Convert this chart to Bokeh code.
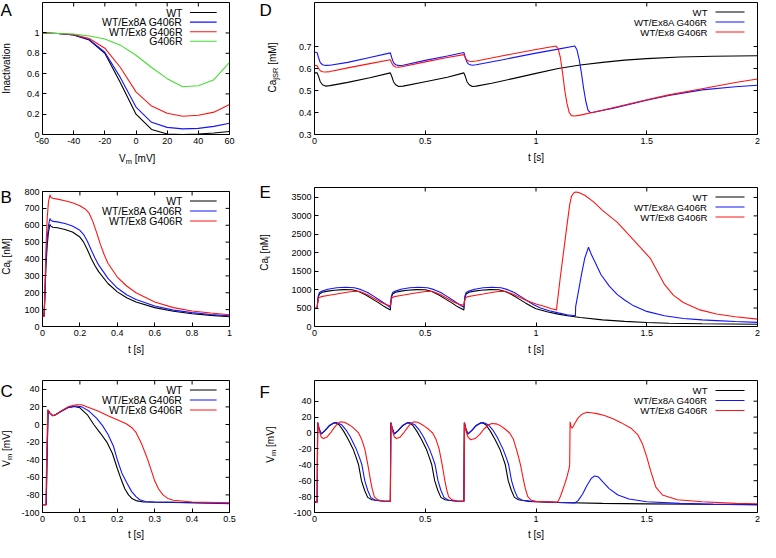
import math
from bokeh.plotting import figure
from bokeh.models import Range1d, FixedTicker, Label, NumeralTickFormatter
from bokeh.layouts import column, row
from bokeh.embed import file_html
from bokeh.resources import INLINE

FONT = "Liberation Sans"
COL_WT = "#000000"
COL_8A = "#1414ff"
COL_8 = "#ff1414"
COL_G = "#44e030"
NAMES = ["WT", "WT/Ex8A G406R", "WT/Ex8 G406R", "G406R"]
LW = 1.1

# ---------------- Panel A: inactivation vs Vm ----------------
A_VM = [-60, -50, -40, -30, -20, -10, 0, 10, 20, 30, 40, 50, 60]
A_WT = [1, 0.995, 0.98, 0.93, 0.80, 0.51, 0.20, 0.05, 0.005, 0.0, 0.005, 0.015, 0.03]
A_EX8A = [1, 0.995, 0.98, 0.935, 0.81, 0.56, 0.27, 0.12, 0.07, 0.055, 0.06, 0.08, 0.11]
A_EX8 = [1, 0.995, 0.985, 0.945, 0.85, 0.66, 0.42, 0.28, 0.21, 0.18, 0.19, 0.22, 0.295]
A_G406R = [1, 0.995, 0.99, 0.97, 0.94, 0.88, 0.78, 0.66, 0.55, 0.47, 0.48, 0.54, 0.71]
A_XTICKS = [-60, -40, -20, 0, 20, 40, 60]
A_YTICKS = [0, 0.2, 0.4, 0.6, 0.8, 1]

# ---------------- Panel B: Ca_i single beat ----------------
B_WT = [(0, 60), (0.008, 60), (0.012, 150), (0.018, 350), (0.025, 480), (0.032, 560), (0.04, 605),
        (0.045, 595), (0.055, 588), (0.08, 585), (0.12, 575), (0.16, 560), (0.2, 530), (0.22, 500),
        (0.24, 455), (0.26, 405), (0.28, 362), (0.3, 325), (0.35, 255), (0.4, 205), (0.45, 170),
        (0.5, 145), (0.6, 112), (0.7, 90), (0.8, 76), (0.9, 66), (1.0, 58)]
B_EX8A = [(0, 60), (0.008, 60), (0.012, 160), (0.018, 380), (0.025, 520), (0.032, 600), (0.04, 640),
          (0.045, 630), (0.055, 623), (0.08, 620), (0.12, 610), (0.16, 595), (0.2, 570), (0.22, 545),
          (0.24, 505), (0.26, 455), (0.28, 408), (0.3, 365), (0.35, 285), (0.4, 228), (0.45, 188),
          (0.5, 160), (0.6, 122), (0.7, 97), (0.8, 82), (0.9, 71), (1.0, 63)]
B_EX8 = [(0, 60), (0.008, 60), (0.012, 180), (0.018, 450), (0.025, 640), (0.032, 740), (0.04, 780),
         (0.045, 765), (0.055, 760), (0.08, 755), (0.12, 745), (0.16, 733), (0.2, 715), (0.23, 695),
         (0.25, 670), (0.27, 620), (0.29, 555), (0.31, 485), (0.33, 425), (0.35, 375), (0.4, 293),
         (0.45, 240), (0.5, 200), (0.6, 145), (0.7, 112), (0.8, 92), (0.9, 80), (1.0, 70)]
B_XTICKS = [0, 0.2, 0.4, 0.6, 0.8, 1]
B_YTICKS = [0, 100, 200, 300, 400, 500, 600, 700, 800]

# ---------------- Panel C: Vm single beat ----------------
C_WT = [(0, -91), (0.01, -91), (0.012, -40), (0.015, 16), (0.02, 13), (0.027, 10), (0.035, 11),
        (0.05, 15), (0.07, 19.5), (0.085, 20.5), (0.1, 19), (0.12, 11), (0.137, 0), (0.155, -10),
        (0.172, -20), (0.187, -33), (0.2, -50), (0.21, -62), (0.22, -73), (0.23, -80), (0.24, -84.5),
        (0.25, -86.5), (0.27, -88), (0.35, -88.5), (0.5, -89.5)]
C_EX8A = [(0, -91), (0.01, -91), (0.012, -40), (0.015, 16), (0.02, 13), (0.027, 10), (0.035, 11),
          (0.05, 15), (0.07, 19.5), (0.09, 21), (0.105, 20), (0.125, 15), (0.145, 7), (0.16, -1),
          (0.175, -11), (0.19, -25), (0.2, -40), (0.212, -55), (0.225, -66), (0.238, -76),
          (0.25, -82), (0.26, -85.5), (0.275, -87.5), (0.3, -88), (0.4, -89), (0.5, -90)]
C_EX8 = [(0, -91), (0.009, -91), (0.011, -40), (0.014, 17), (0.02, 13), (0.027, 10), (0.035, 11),
         (0.05, 15.5), (0.07, 20.5), (0.09, 22.5), (0.105, 22.5), (0.12, 20), (0.15, 15), (0.175, 10),
         (0.2, 5.5), (0.225, 0.5), (0.24, -4), (0.25, -9), (0.265, -22), (0.278, -36), (0.29, -51),
         (0.3, -64), (0.31, -73), (0.322, -80), (0.335, -84), (0.35, -86), (0.4, -88), (0.5, -89)]
C_XTICKS = [0, 0.1, 0.2, 0.3, 0.4, 0.5]
C_YTICKS = [-100, -80, -60, -40, -20, 0, 20, 40]

# ---------------- Panel D: Ca_jSR, 4 beats ----------------
D_WT = [(0, 0.58), (0.012, 0.58), (0.018, 0.565), (0.026, 0.54), (0.036, 0.526), (0.05, 0.52),
        (0.07, 0.522), (0.15, 0.537), (0.25, 0.558), (0.3425, 0.58), (0.3485, 0.565), (0.3565, 0.54),
        (0.3665, 0.526), (0.38, 0.518), (0.4, 0.52), (0.5, 0.54), (0.6, 0.56), (0.6745, 0.58),
        (0.6805, 0.565), (0.6885, 0.54), (0.6985, 0.526), (0.712, 0.518), (0.73, 0.52), (0.8, 0.533),
        (0.9, 0.555), (1.0, 0.578), (1.1, 0.6), (1.2, 0.616), (1.3, 0.628), (1.4, 0.638), (1.5, 0.645),
        (1.65, 0.652), (1.8, 0.656), (2.0, 0.658)]
D_EX8A = [(0, 0.675), (0.012, 0.672), (0.018, 0.65), (0.026, 0.627), (0.036, 0.617), (0.05, 0.614),
          (0.07, 0.615), (0.15, 0.628), (0.25, 0.65), (0.3425, 0.671), (0.3485, 0.65), (0.3565, 0.627),
          (0.3665, 0.617), (0.38, 0.613), (0.4, 0.615), (0.5, 0.637), (0.6, 0.657), (0.6745, 0.673),
          (0.6805, 0.65), (0.6885, 0.628), (0.6985, 0.618), (0.712, 0.615), (0.73, 0.617), (0.85, 0.64),
          (1.0, 0.67), (1.1, 0.688), (1.175, 0.702), (1.185, 0.685), (1.195, 0.64), (1.205, 0.58),
          (1.215, 0.51), (1.225, 0.45), (1.235, 0.41), (1.245, 0.4), (1.26, 0.401), (1.35, 0.42),
          (1.5, 0.456), (1.6, 0.478), (1.75, 0.503), (1.9, 0.517), (2.0, 0.524)]
D_EX8 = [(0, 0.615), (0.012, 0.612), (0.018, 0.6), (0.026, 0.59), (0.036, 0.585), (0.05, 0.584),
         (0.07, 0.586), (0.15, 0.603), (0.25, 0.622), (0.3425, 0.64), (0.3485, 0.625), (0.3565, 0.612),
         (0.3665, 0.607), (0.38, 0.606), (0.4, 0.609), (0.5, 0.63), (0.6, 0.65), (0.6745, 0.663),
         (0.6805, 0.65), (0.6885, 0.638), (0.6985, 0.633), (0.712, 0.632), (0.73, 0.634), (0.85, 0.658),
         (1.0, 0.686), (1.09, 0.702), (1.1, 0.69), (1.11, 0.65), (1.12, 0.58), (1.13, 0.5), (1.14, 0.44),
         (1.15, 0.4), (1.16, 0.386), (1.175, 0.384), (1.2, 0.388), (1.3, 0.41), (1.4, 0.434),
         (1.5, 0.458), (1.6, 0.48), (1.75, 0.508), (1.9, 0.536), (2.0, 0.552)]
D_XTICKS = [0, 0.5, 1, 1.5, 2]
D_YTICKS = [0.3, 0.4, 0.5, 0.6, 0.7]

# ---------------- Panel E: Ca_i, 4 beats ----------------
E_WT = [(0, 490), (0.012, 495), (0.014, 650), (0.017, 790), (0.022, 880), (0.035, 930), (0.06, 960),
        (0.09, 985), (0.13, 1000), (0.17, 995), (0.2, 950), (0.23, 860), (0.26, 750), (0.29, 640),
        (0.315, 540), (0.3425, 450), (0.3445, 650), (0.3475, 790), (0.3525, 880), (0.3655, 930),
        (0.39, 960), (0.42, 985), (0.46, 1000), (0.5, 995), (0.53, 950), (0.56, 860), (0.59, 750),
        (0.62, 640), (0.645, 540), (0.6745, 450), (0.6765, 650), (0.6795, 790), (0.6845, 880),
        (0.6975, 930), (0.722, 960), (0.752, 985), (0.792, 1000), (0.832, 995), (0.862, 950),
        (0.892, 860), (0.922, 750), (0.952, 640), (0.98, 545), (1.0, 480), (1.05, 400), (1.1, 335),
        (1.15, 285), (1.2, 245), (1.3, 180), (1.4, 140), (1.5, 110), (1.6, 90), (1.75, 75), (2.0, 60)]
E_EX8A = [(0, 490), (0.012, 500), (0.014, 660), (0.017, 830), (0.022, 920), (0.035, 960), (0.06, 1010),
          (0.1, 1050), (0.14, 1065), (0.18, 1050), (0.21, 1000), (0.24, 920), (0.27, 810), (0.3, 690),
          (0.325, 590), (0.3425, 515), (0.3445, 660), (0.3475, 830), (0.3525, 920), (0.3655, 960),
          (0.39, 1010), (0.43, 1050), (0.47, 1065), (0.51, 1050), (0.54, 1000), (0.57, 920), (0.6, 810),
          (0.63, 690), (0.655, 590), (0.6745, 520), (0.6765, 660), (0.6795, 830), (0.6845, 920),
          (0.6975, 960), (0.722, 1010), (0.762, 1050), (0.802, 1065), (0.842, 1050), (0.872, 1000),
          (0.902, 920), (0.932, 810), (0.962, 690), (0.99, 590), (1.02, 500), (1.06, 425), (1.1, 370),
          (1.14, 320), (1.178, 290), (1.179, 540), (1.19, 900), (1.205, 1400), (1.22, 1850),
          (1.237, 2150), (1.25, 1950), (1.27, 1700), (1.293, 1410), (1.33, 1100), (1.366, 870),
          (1.4, 720), (1.441, 560), (1.5, 410), (1.58, 290), (1.665, 215), (1.75, 180), (1.815, 160),
          (1.9, 135), (2.0, 112)]
E_EX8 = [(0, 500), (0.012, 510), (0.015, 660), (0.019, 780), (0.03, 810), (0.06, 840), (0.1, 880),
         (0.14, 920), (0.17, 950), (0.19, 955), (0.21, 935), (0.24, 860), (0.27, 760), (0.3, 660),
         (0.325, 590), (0.3425, 560), (0.3455, 680), (0.3495, 780), (0.36, 810), (0.39, 840), (0.43, 880),
         (0.47, 920), (0.5, 950), (0.52, 955), (0.54, 935), (0.57, 860), (0.6, 760), (0.63, 660),
         (0.655, 600), (0.6745, 575), (0.6775, 690), (0.6815, 780), (0.692, 810), (0.722, 840),
         (0.762, 880), (0.8, 920), (0.83, 950), (0.85, 955), (0.87, 935), (0.9, 870), (0.93, 780),
         (0.96, 700), (1.0, 610), (1.04, 540), (1.07, 480), (1.093, 450), (1.095, 600), (1.098, 740),
         (1.11, 1350), (1.125, 2050), (1.14, 2750), (1.152, 3300), (1.16, 3530), (1.17, 3620),
         (1.18, 3650), (1.195, 3630), (1.22, 3560), (1.26, 3380), (1.3, 3150), (1.366, 2830),
         (1.44, 2350), (1.516, 1850), (1.56, 1360), (1.58, 1140), (1.62, 850), (1.665, 650),
         (1.74, 450), (1.815, 340), (1.9, 265), (2.0, 200)]
E_XTICKS = [0, 0.5, 1, 1.5, 2]
E_YTICKS = [0, 500, 1000, 1500, 2000, 2500, 3000, 3500]

# ---------------- Panel F: Vm, 4 beats ----------------
F_WT = [(0, -87), (0.012, -87), (0.014, 13), (0.02, 6), (0.03, -1.5), (0.047, 3), (0.067, 9),
        (0.087, 12.5), (0.095, 13), (0.112, 10), (0.132, 2), (0.152, -8), (0.174, -20), (0.187, -30),
        (0.199, -40), (0.212, -60), (0.226, -72), (0.24, -81), (0.259, -84), (0.302, -85.5),
        (0.3425, -86), (0.3445, 13), (0.3505, 6), (0.3605, -1.5), (0.3775, 3), (0.3975, 9),
        (0.4175, 12.5), (0.4255, 13), (0.4425, 10), (0.4625, 2), (0.4825, -8), (0.5045, -20),
        (0.5175, -30), (0.5295, -40), (0.5425, -60), (0.5565, -72), (0.5705, -81), (0.5895, -84),
        (0.6325, -85.5), (0.6745, -86), (0.6765, 13), (0.6825, 6), (0.6925, -1.5), (0.7095, 3),
        (0.7295, 9), (0.7495, 12.5), (0.7575, 13), (0.7745, 10), (0.7945, 2), (0.8145, -8),
        (0.8365, -20), (0.8495, -30), (0.8615, -40), (0.8745, -60), (0.8885, -72), (0.9025, -81),
        (0.9215, -84), (0.97, -86), (1.1, -87.5), (1.3, -88.5), (1.5, -89.2), (1.75, -89.7), (2.0, -90)]
F_EX8A = [(0, -87), (0.012, -87), (0.014, 13), (0.02, 6), (0.03, -1), (0.047, 3), (0.067, 9.5),
          (0.087, 12.5), (0.102, 13), (0.122, 10.5), (0.142, 4), (0.162, -5), (0.188, -20), (0.202, -30),
          (0.214, -40), (0.227, -60), (0.24, -72), (0.254, -81), (0.274, -84.5), (0.312, -85.5),
          (0.3425, -86), (0.3445, 13), (0.3505, 6), (0.3605, -1), (0.3775, 3), (0.3975, 9.5),
          (0.4175, 12.5), (0.4325, 13), (0.4525, 10.5), (0.4725, 4), (0.4925, -5), (0.5185, -20),
          (0.5325, -30), (0.5445, -40), (0.5575, -60), (0.5705, -72), (0.5845, -81), (0.6045, -84.5),
          (0.6425, -85.5), (0.6745, -86), (0.6765, 13), (0.6825, 6), (0.6925, -1), (0.7095, 3),
          (0.7295, 9.5), (0.7495, 12.5), (0.7645, 13), (0.7845, 10.5), (0.8045, 4), (0.8245, -5),
          (0.8505, -20), (0.8645, -30), (0.8765, -40), (0.8895, -60), (0.9025, -72), (0.9165, -81),
          (0.9365, -84.5), (0.98, -86), (1.1, -87.5), (1.175, -88), (1.19, -85), (1.21, -77),
          (1.23, -66), (1.25, -57), (1.265, -54), (1.28, -55), (1.3, -61), (1.33, -70), (1.37, -78),
          (1.42, -83), (1.5, -86.5), (1.65, -88.5), (1.8, -89.5), (2.0, -90.5)]
F_EX8 = [(0, -87), (0.012, -87), (0.015, 13), (0.022, 2), (0.03, -5), (0.04, -7), (0.055, -5.5),
         (0.072, 0), (0.09, 7), (0.105, 12), (0.117, 14), (0.135, 13.5), (0.152, 11), (0.169, 8),
         (0.185, 4), (0.199, 0), (0.213, -8), (0.227, -20), (0.234, -30), (0.241, -40), (0.247, -50),
         (0.253, -60), (0.261, -71), (0.27, -80), (0.285, -84), (0.31, -85.5), (0.3425, -86),
         (0.3455, 13), (0.3525, 2), (0.3605, -5), (0.3705, -7), (0.3855, -5.5), (0.4025, 0),
         (0.4205, 7), (0.4355, 12), (0.4475, 14), (0.4655, 13.5), (0.4825, 11), (0.4995, 8),
         (0.5175, 4), (0.5335, 0), (0.5485, -8), (0.5625, -20), (0.5695, -30), (0.5765, -40),
         (0.5825, -50), (0.5885, -60), (0.5965, -71), (0.6055, -80), (0.6205, -84), (0.6455, -85.5),
         (0.6745, -86), (0.6775, 13), (0.6845, 2), (0.6925, -5), (0.705, -8.5), (0.725, -7),
         (0.745, -2), (0.765, 5), (0.785, 10), (0.8, 12), (0.82, 11.5), (0.84, 9), (0.86, 5),
         (0.881, 0), (0.898, -8), (0.911, -20), (0.921, -30), (0.93, -40), (0.937, -50), (0.944, -60),
         (0.952, -70), (0.963, -80), (0.978, -84.5), (1.0, -86), (1.05, -86.5), (1.092, -87),
         (1.1, -86), (1.11, -80), (1.12, -72), (1.13, -64), (1.14, -55), (1.15, -44), (1.152, -40),
         (1.154, 14), (1.158, 8), (1.163, 6), (1.175, 12), (1.19, 19), (1.21, 24), (1.23, 26),
         (1.25, 25.5), (1.28, 24), (1.309, 22), (1.35, 17.5), (1.384, 13), (1.429, 6), (1.459, -2),
         (1.481, -14), (1.5, -30), (1.518, -48), (1.541, -68), (1.571, -78), (1.638, -84),
         (1.75, -86.5), (1.9, -88.5), (2.0, -89)]
F_XTICKS = [0, 0.5, 1, 1.5, 2]
F_YTICKS = [-100, -80, -60, -40, -20, 0, 20, 40]

# ---------------- helpers ----------------
ADV = {" ": 278, "[": 278, "]": 278, "V": 667, "m": 833, "M": 833, "N": 722, "C": 722,
       "a": 556, "i": 222, "j": 222, "S": 667, "R": 722, "t": 278, "s": 500, "I": 278,
       "n": 556, "c": 500, "v": 500, "o": 556}
TICK = 4
TOTAL_H = 542


def text_width(s, size):
    return sum(ADV.get(c, 556) for c in s) * size / 1000.0


def style_axis(ax, ticks):
    ax.ticker = FixedTicker(ticks=ticks)
    ax.formatter = NumeralTickFormatter(format="0.[0]")
    ax.axis_line_color = None
    ax.major_tick_in = TICK
    ax.major_tick_out = 0
    ax.major_tick_line_color = "black"
    ax.minor_tick_line_color = None
    ax.major_label_text_font = FONT
    ax.major_label_text_color = "black"
    ax.major_label_text_font_size = "9px"
    ax.major_label_standoff = 3
    ax.axis_label_text_font = FONT
    ax.axis_label_text_font_style = "normal"
    ax.axis_label_text_font_size = "10px"
    ax.axis_label_text_color = "black"


def panel(w, h, bl, br, bt, bb, xr, yr, xticks, yticks):
    p = figure(width=w, height=h, x_range=Range1d(*xr), y_range=Range1d(*yr),
               output_backend="svg", toolbar_location=None,
               min_border_left=bl, min_border_right=br, min_border_top=bt, min_border_bottom=bb)
    p.grid.visible = False
    p.outline_line_color = "black"
    p.outline_line_width = 1
    p.outline_line_alpha = 1
    p.background_fill_color = "white"
    p.border_fill_color = "white"
    xa, ya = p.below[0], p.left[0]
    style_axis(xa, xticks)
    style_axis(ya, yticks)
    fw, fh = w - bl - br, h - bt - bb
    # mirrored inward ticks on the top and right edges (gnuplot style)
    dx = (xr[1] - xr[0]) / fw * TICK
    dy = (yr[1] - yr[0]) / fh * TICK
    p.segment(x0=xticks, y0=[yr[1]] * len(xticks), x1=xticks, y1=[yr[1] - dy] * len(xticks),
              line_color="black", line_width=1)
    p.segment(x0=[xr[1]] * len(yticks), y0=yticks, x1=[xr[1] - dx] * len(yticks), y1=yticks,
              line_color="black", line_width=1)
    return p, xa, ya, fw, fh


def strip(w, h):
    """A blank canvas (frame = whole canvas, 1 unit = 1 px) that holds label texts."""
    p = figure(width=w, height=h, x_range=Range1d(0, w), y_range=Range1d(0, h),
               output_backend="svg", toolbar_location=None, x_axis_type=None, y_axis_type=None,
               min_border=0)
    p.grid.visible = False
    p.outline_line_color = None
    p.background_fill_color = "white"
    p.border_fill_color = "white"
    return p


def rich_label(p, x, y, parts, vertical, size=10.0, sub_size=7.5):
    """parts: list of (text, is_subscript, leading_space)."""
    widths = []
    for t, sub, gap in parts:
        fs = sub_size if sub else size
        widths.append(text_width(t, fs) + (text_width(" ", fs) if gap else 0))
    pos = -sum(widths) / 2.0
    for (t, sub, gap), wd in zip(parts, widths):
        fs = sub_size if sub else size
        start = pos + (text_width(" ", fs) if gap else 0)
        if vertical:
            lab = Label(x=x, y=y, x_offset=(3 if sub else 0), y_offset=start,
                        angle=math.pi / 2, text=t, text_align="left", text_baseline="middle",
                        text_font=FONT, text_font_size=f"{fs}px", text_color="black")
        else:
            lab = Label(x=x, y=y, x_offset=start, y_offset=(-3 if sub else 0),
                        text=t, text_align="left", text_baseline="middle",
                        text_font=FONT, text_font_size=f"{fs}px", text_color="black")
        p.add_layout(lab)
        pos += wd


def letter(p, x, y, s):
    p.add_layout(Label(x=x, y=y, text=s, text_align="left", text_baseline="top",
                       text_font=FONT, text_font_size="17px", text_color="black"))


def legend(p, fw, fh, xr, yr, names, colors, text_off, l0, l1, row0, rstep, size):
    dx = (xr[1] - xr[0]) / fw
    dy = (yr[1] - yr[0]) / fh
    for i, (n, c) in enumerate(zip(names, colors)):
        off = row0 + i * rstep
        p.add_layout(Label(x=xr[1], y=yr[1], x_offset=text_off, y_offset=-off, text=n,
                           text_align="right", text_baseline="middle", text_font=FONT,
                           text_font_size=size, text_color="black"))
        yy = yr[1] - off * dy
        p.line([xr[1] + l0 * dx, xr[1] + l1 * dx], [yy, yy], line_color=c, line_width=LW)


def draw_series(p, series, colors):
    for data, c in zip(series, colors):
        ts = [d[0] for d in data]
        vs = [d[1] for d in data]
        p.line(ts, vs, line_color=c, line_width=LW)


COLORS3 = [COL_WT, COL_8A, COL_8]
VM_PARTS = [("V", False, False), ("m", True, False), ("[mV]", False, True)]
CAI_PARTS = [("Ca", False, False), ("i", True, False), ("[nM]", False, True)]
CAJ_PARTS = [("Ca", False, False), ("jSR", True, False), ("[mM]", False, True)]

# ---------------- geometry (page x 8..768, y 8..550) ----------------
GL = 18            # left gutter: panel letters A-C, y labels
WL = 230           # left column: border 22 + frame 189 + 19
GM = 40            # middle gutter: panel letters D-F, y labels
WR = 472           # right column: border 26 + frame 443 + 3
BL_L, BR_L = 22, 19
BL_R, BR_R = 26, 3

# A
xrA, yrA = (-60, 60), (0, 1.3)
pA, xaA, yaA, fwA, fhA = panel(WL, 150, BL_L, BR_L, 2, 16, xrA, yrA, A_XTICKS, A_YTICKS)
for vals, c in zip([A_WT, A_EX8A, A_EX8, A_G406R], [COL_WT, COL_8A, COL_8, COL_G]):
    pA.line(A_VM, vals, line_color=c, line_width=LW)
legend(pA, fwA, fhA, xrA, yrA, NAMES, [COL_WT, COL_8A, COL_8, COL_G], -47, -40, -13, 10, 9.6, "10.5px")
sA = strip(WL, 26)
rich_label(sA, BL_L + fwA / 2.0, 18, VM_PARTS, False)

# B
xrB, yrB = (0, 1), (0, 800)
pB, xaB, yaB, fwB, fhB = panel(WL, 188, BL_L, BR_L, 15, 38, xrB, yrB, B_XTICKS, B_YTICKS)
draw_series(pB, [B_WT, B_EX8A, B_EX8], COLORS3)
xaB.axis_label = "t [s]"
xaB.axis_label_standoff = 5
legend(pB, fwB, fhB, xrB, yrB, NAMES[:3], COLORS3, -47, -40, -13, 9.5, 10, "10.5px")

# C
xrC, yrC = (0, 0.5), (-100, 50)
pC, xaC, yaC, fwC, fhC = panel(WL, 178, BL_L, BR_L, 16, 30, xrC, yrC, C_XTICKS, C_YTICKS)
draw_series(pC, [C_WT, C_EX8A, C_EX8], COLORS3)
xaC.axis_label = "t [s]"
xaC.axis_label_standoff = 4
legend(pC, fwC, fhC, xrC, yrC, NAMES[:3], COLORS3, -47, -40, -13, 9.5, 10, "10.5px")

# D
xrD, yrD = (0, 2), (0.3, 0.9)
pD, xaD, yaD, fwD, fhD = panel(WR, 176, BL_R, BR_R, 2, 42, xrD, yrD, D_XTICKS, D_YTICKS)
draw_series(pD, [D_WT, D_EX8A, D_EX8], COLORS3)
xaD.axis_label = "t [s]"
xaD.axis_label_standoff = 5
legend(pD, fwD, fhD, xrD, yrD, NAMES[:3], COLORS3, -50, -42, -13, 9.5, 10, "9.6px")

# E
xrE, yrE = (0, 2), (0, 3770)
pE, xaE, yaE, fwE, fhE = panel(WR, 188, BL_R, BR_R, 11, 38, xrE, yrE, E_XTICKS, E_YTICKS)
draw_series(pE, [E_WT, E_EX8A, E_EX8], COLORS3)
xaE.axis_label = "t [s]"
xaE.axis_label_standoff = 5
legend(pE, fwE, fhE, xrE, yrE, NAMES[:3], COLORS3, -50, -42, -13, 9.5, 10, "9.6px")

# F
xrF, yrF = (0, 2), (-100, 66)
pF, xaF, yaF, fwF, fhF = panel(WR, 178, BL_R, BR_R, 16, 30, xrF, yrF, F_XTICKS, F_YTICKS)
draw_series(pF, [F_WT, F_EX8A, F_EX8], COLORS3)
xaF.axis_label = "t [s]"
xaF.axis_label_standoff = 4
legend(pF, fwF, fhF, xrF, yrF, NAMES[:3], COLORS3, -50, -42, -13, 10, 10, "9.6px")

# gutters (y measured from the bottom of the 542-px-high column; page y = 550 - y)
gL = strip(GL, TOTAL_H)
letter(gL, 0, TOTAL_H, "A")
letter(gL, 0, 550 - 195, "B")
letter(gL, 0, 550 - 389, "C")
gL.add_layout(Label(x=6, y=550 - 76, angle=math.pi / 2, text="Inactivation", text_align="center",
                    text_baseline="middle", text_font=FONT, text_font_size="10px",
                    text_color="black"))
rich_label(gL, 6, 550 - 264, CAI_PARTS, True)
rich_label(gL, 6, 550 - 456, VM_PARTS, True)

gM = strip(GM, TOTAL_H)
letter(gM, 11, TOTAL_H, "D")
letter(gM, 11, 550 - 190, "E")
letter(gM, 11, 550 - 390, "F")
rich_label(gM, 24, 550 - 75, CAJ_PARTS, True)
rich_label(gM, 16, 550 - 260, CAI_PARTS, True)
rich_label(gM, 22, 550 - 452, VM_PARTS, True)

layout = row(gL, column(pA, sA, pB, pC), gM, column(pD, pE, pF))
open("out.html", "w").write(file_html(layout, INLINE))
